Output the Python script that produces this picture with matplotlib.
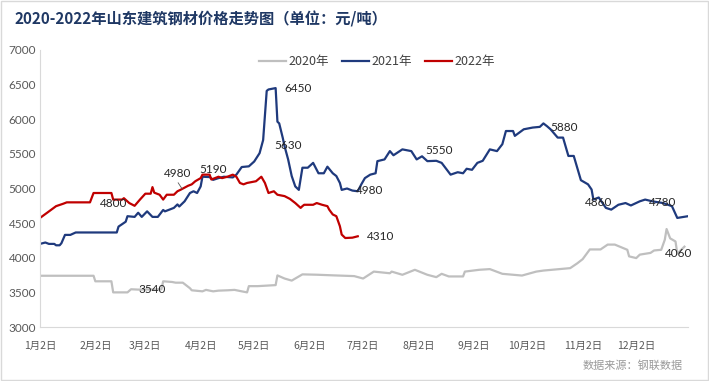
import matplotlib
matplotlib.use("Agg")
import matplotlib.pyplot as plt
from matplotlib.patches import Rectangle

plt.rcParams['font.family'] = ['Noto Sans CJK SC', 'DejaVu Sans']

# 横轴: 距1月2日的天数
days_2020 = [0, 30, 31, 40, 41, 49, 51, 55, 68, 69, 74, 76, 80, 84, 85, 91, 93, 97,
             100, 105, 109, 113, 116, 117, 122, 132, 133, 137, 141, 147, 155, 165,
             176, 181, 187, 196, 197, 203, 210, 217, 222, 225, 229, 237, 238, 246,
             252, 259, 270, 278, 282, 291, 297, 301, 304, 308, 314, 318, 322, 329,
             330, 334, 336, 342, 344, 348, 350, 351, 353, 356, 357, 361]
price_2020 = [3740, 3740, 3660, 3660, 3500, 3500, 3545, 3540, 3545, 3660, 3650, 3640,
              3640, 3560, 3530, 3515, 3536, 3515, 3525, 3530, 3536, 3515, 3500, 3590,
              3590, 3605, 3745, 3700, 3670, 3760, 3755, 3745, 3735, 3700, 3800, 3776,
              3800, 3754, 3826, 3754, 3720, 3768, 3730, 3730, 3800, 3826, 3836, 3768,
              3743, 3800, 3815, 3836, 3850, 3920, 3980, 4120, 4120, 4190, 4190, 4115,
              4020, 3995, 4045, 4070, 4105, 4115, 4260, 4415, 4280, 4235, 4060, 4160]

days_2021 = [0, 3, 5, 8, 9, 11, 12, 14, 17, 20, 43, 44, 48, 49, 53, 55, 57, 60, 63,
             66, 69, 70, 75, 77, 78, 81, 84, 86, 88, 90, 91, 95, 97, 100, 103, 108,
             110, 113, 117, 120, 123, 125, 127, 128, 132, 133, 134, 136, 137, 139,
             141, 143, 145, 147, 150, 153, 156, 159, 161, 164, 166, 168, 169, 172,
             175, 178, 180, 182, 185, 188, 189, 193, 196, 198, 203, 208, 211, 214,
             217, 222, 225, 230, 234, 237, 239, 242, 245, 248, 252, 256, 259, 261,
             265, 266, 271, 276, 280, 282, 284, 286, 290, 293, 296, 299, 303, 307,
             309, 310, 313, 317, 320, 324, 328, 331, 336, 339, 343, 349, 354, 357, 363]
price_2021 = [4200, 4220, 4200, 4200, 4180, 4180, 4210, 4330, 4330, 4365, 4365, 4450,
              4520, 4600, 4590, 4650, 4590, 4670, 4590, 4590, 4690, 4670, 4720, 4770,
              4740, 4815, 4935, 4960, 4935, 5030, 5170, 5165, 5125, 5150, 5170, 5160,
              5200, 5310, 5320, 5390, 5510, 5700, 6410, 6430, 6450, 5965, 5940, 5730,
              5610, 5420, 5180, 5030, 4980, 5300, 5300, 5370, 5220, 5220, 5315, 5220,
              5180, 5080, 4980, 5000, 4970, 4960, 5060, 5150, 5200, 5220, 5395, 5420,
              5540, 5480, 5565, 5540, 5420, 5465, 5395, 5400, 5370, 5200, 5235, 5220,
              5285, 5270, 5370, 5400, 5565, 5540, 5640, 5830, 5830, 5760, 5855, 5880,
              5890, 5940, 5900, 5855, 5735, 5735, 5470, 5470, 5120, 5060, 4985, 4840,
              4870, 4720, 4695, 4765, 4790, 4755, 4815, 4840, 4815, 4790, 4745, 4575,
              4600]

days_2022 = [0, 4, 9, 13, 15, 28, 30, 40, 41, 46, 47, 50, 53, 56, 59, 62, 63, 64, 67,
             69, 71, 75, 77, 79, 83, 85, 87, 90, 91, 95, 96, 98, 100, 102, 105, 108,
             110, 112, 114, 116, 121, 124, 126, 128, 131, 133, 137, 140, 143, 146,
             147, 148, 153, 155, 158, 161, 162, 164, 166, 168, 169, 171, 175, 178]
price_2022 = [4575, 4650, 4745, 4780, 4800, 4800, 4935, 4935, 4840, 4840, 4860, 4790,
              4750, 4840, 4925, 4925, 5020, 4940, 4910, 4840, 4910, 4910, 4960, 4985,
              5040, 5060, 5105, 5150, 5200, 5200, 5130, 5150, 5170, 5150, 5170, 5200,
              5170, 5080, 5060, 5080, 5105, 5170, 5080, 4935, 4960, 4910, 4890, 4850,
              4790, 4720, 4745, 4765, 4765, 4790, 4765, 4745, 4695, 4625, 4600, 4455,
              4335, 4285, 4290, 4310]

tick_days = [0, 31, 59, 90, 120, 151, 181, 212, 243, 273, 304, 334]
tick_labels = ['1月2日', '2月2日', '3月2日', '4月2日', '5月2日', '6月2日',
               '7月2日', '8月2日', '9月2日', '10月2日', '11月2日', '12月2日']

# 标注: (文字, 天, 价格)
labels = [('6450', 137, 6450), ('5630', 131, 5620), ('5190', 89, 5275),
          ('4980', 69.5, 5215), ('4800', 33.6, 4790), ('3540', 55, 3536),
          ('4980', 177, 4970), ('5550', 216, 5550), ('5880', 286, 5884),
          ('4860', 305.5, 4797), ('4780', 341, 4797), ('4310', 183, 4304),
          ('4060', 350, 4058)]

fig = plt.figure(figsize=(7.09, 3.81), dpi=100)
ax = fig.add_axes([40 / 709, 1 - 327 / 381, 648 / 709, 277 / 381])

ax.plot(days_2020, price_2020, color='#BFBFBF', lw=1.6, label='2020年')
ax.plot(days_2021, price_2021, color='#1F3A7D', lw=1.6, label='2021年')
ax.plot(days_2022, price_2022, color='#C00000', lw=1.6, label='2022年')

for txt, d, v in labels:
    ax.text(d, v, txt, ha='left', va='center', fontsize=8.5, color='#262626',
            family=['Lato', 'DejaVu Sans'])
# 4980 引线
ax.plot([77.4, 79.6], [5082, 4995], color='#595959', lw=0.6)

ax.set_xlim(0, 363)
ax.set_ylim(3000, 7000)
ax.set_yticks(range(3000, 7001, 500))
ax.set_xticks(tick_days)
ax.set_xticklabels(tick_labels)
ax.tick_params(axis='both', length=0, colors='#595959')
ax.tick_params(axis='x', labelsize=7.5, pad=10)
ax.tick_params(axis='y', labelsize=8.5, pad=3)
for lab in ax.get_yticklabels():
    lab.set_family(['Lato', 'DejaVu Sans'])

for side in ['top', 'right']:
    ax.spines[side].set_visible(False)
for side in ['left', 'bottom']:
    ax.spines[side].set_color('#D9D9D9')
    ax.spines[side].set_linewidth(0.8)

ax.legend(loc='center', bbox_to_anchor=(0.52, 0.957), ncol=3, frameon=False,
          fontsize=9, handlelength=2.2, columnspacing=1.0, handletextpad=0.2,
          labelcolor='#404040')

fig.text(15 / 709, 1 - 19 / 381, '2020-2022年山东建筑钢材价格走势图（单位：元/吨）',
         ha='left', va='center', fontsize=11, fontweight='bold', color='#1F3864')
fig.text(683 / 709, 1 - 366 / 381, '数据来源：钢联数据', ha='right', va='center',
         fontsize=8, color='#999999')

fig.patches.append(Rectangle((0.001, 0.002), 0.997, 0.995, transform=fig.transFigure,
                             fill=False, edgecolor='#D9D9D9', lw=1))

fig.savefig('out.png', dpi=100)
